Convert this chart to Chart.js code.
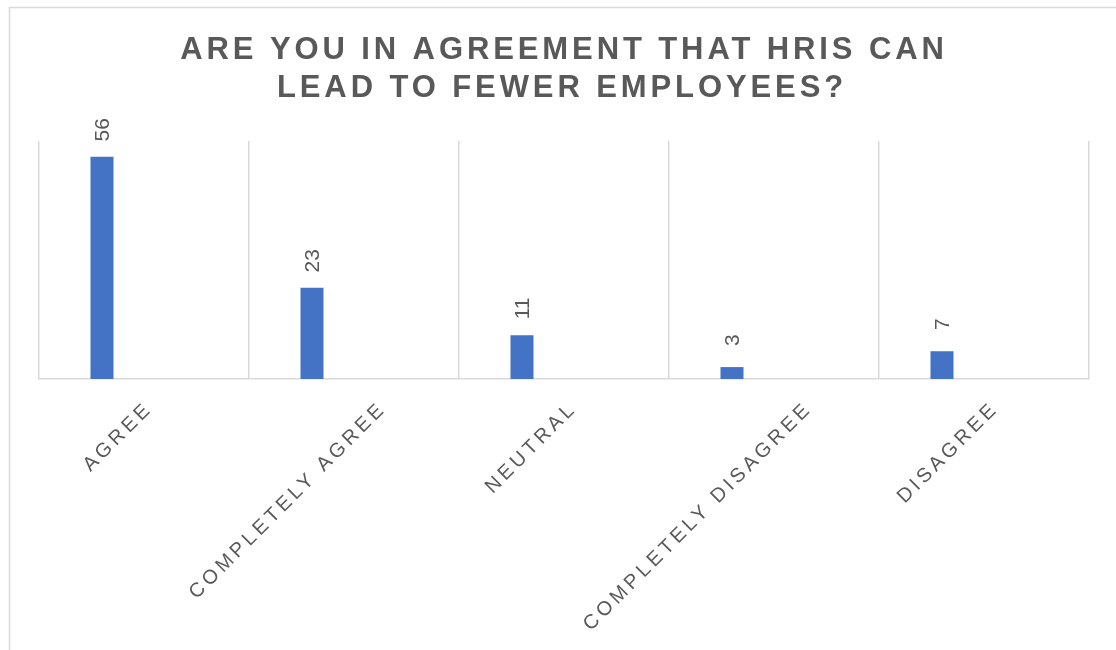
<!DOCTYPE html>
<html>
<head>
<meta charset="utf-8">
<script src="https://cdn.jsdelivr.net/npm/chart.js@4/dist/chart.umd.min.js"></script>
<style>
  html, body { margin: 0; padding: 0; background: #fff; }
  #wrap { width: 1116px; height: 650px; position: relative; }
</style>
</head>
<body>
<div id="wrap"><canvas id="c" width="1116" height="650"></canvas></div>
<script>
const categories = ['AGREE', 'COMPLETELY AGREE', 'NEUTRAL', 'COMPLETELY DISAGREE', 'DISAGREE'];
const responses = [56, 23, 11, 3, 7];
const emptySeries = [null, null, null, null, null];
const titleLines = ['ARE YOU IN AGREEMENT THAT HRIS CAN', 'LEAD TO FEWER EMPLOYEES?'];

const TEXT = '#595959';
const GRID = '#d9d9d9';
const FONT_FAMILY = '"Liberation Sans", Arial, sans-serif';
const TICK_SIZE = 20;
const TICK_LS = 3.8;

const framePlugin = {
  id: 'frame',
  beforeDraw(chart) {
    const ctx = chart.ctx;
    ctx.save();
    ctx.strokeStyle = GRID;
    ctx.lineWidth = 1.5;
    ctx.strokeRect(9.5, 7.5, 3000, 3000);
    ctx.restore();
  }
};

const titlePlugin = {
  id: 'customTitle',
  afterDraw(chart) {
    const ctx = chart.ctx;
    ctx.save();
    ctx.letterSpacing = '3.9px';
    ctx.font = 'bold 31px ' + FONT_FAMILY;
    ctx.fillStyle = TEXT;
    ctx.textAlign = 'center';
    ctx.textBaseline = 'alphabetic';
    const cx = 564;
    ctx.fillText(titleLines[0], cx, 59);
    ctx.fillText(titleLines[1], cx - 2, 97);
    ctx.restore();
  }
};

// Category labels: placed from the x scale's tick pixels, rotated 45°
const tickLabelPlugin = {
  id: 'tickLabels',
  afterDraw(chart) {
    const ctx = chart.ctx;
    const xs = chart.scales.x;
    ctx.save();
    ctx.font = TICK_SIZE + 'px ' + FONT_FAMILY;
    ctx.letterSpacing = TICK_LS + 'px';
    ctx.fillStyle = TEXT;
    ctx.textAlign = 'right';
    ctx.textBaseline = 'alphabetic';
    const h = 0.716 * TICK_SIZE;
    const topY = xs.top + 28;
    xs.ticks.forEach((t, i) => {
      const label = chart.data.labels[i];
      const c = xs.getPixelForTick(i);
      const w = ctx.measureText(label).width - TICK_LS;
      const mx = c + 0.131 * w - 9.5, my = topY;
      const bx = mx + 0.3536 * h, by = my + 0.3536 * h;
      const ox = bx + 0.7071 * TICK_LS, oy = by - 0.7071 * TICK_LS;
      ctx.save();
      ctx.translate(ox, oy);
      ctx.rotate(-Math.PI / 4);
      ctx.fillText(label, 0, 0);
      ctx.restore();
    });
    ctx.restore();
  }
};

const valueLabelPlugin = {
  id: 'valueLabels',
  afterDatasetsDraw(chart) {
    const ctx = chart.ctx;
    const meta = chart.getDatasetMeta(0);
    ctx.save();
    ctx.font = '21px ' + FONT_FAMILY;
    ctx.fillStyle = TEXT;
    ctx.textAlign = 'center';
    ctx.textBaseline = 'middle';
    meta.data.forEach((el, i) => {
      const v = chart.data.datasets[0].data[i];
      ctx.save();
      ctx.translate(el.x + 1, el.y - 27);
      ctx.rotate(-Math.PI / 2);
      ctx.fillText(String(v), 0, 0);
      ctx.restore();
    });
    ctx.restore();
  }
};

new Chart(document.getElementById('c'), {
  type: 'bar',
  data: {
    labels: categories,
    datasets: [
      { data: responses, backgroundColor: '#4472C4', barPercentage: 0.274, categoryPercentage: 0.8 },
      { data: emptySeries, backgroundColor: '#ED7D31', barPercentage: 0.274, categoryPercentage: 0.8 }
    ]
  },
  options: {
    responsive: false,
    animation: false,
    events: [],
    layout: { padding: { left: 39, right: 27, top: 141, bottom: 0 } },
    plugins: { legend: { display: false }, title: { display: false }, tooltip: { enabled: false } },
    scales: {
      x: {
        grid: { display: true, offset: true, color: GRID, lineWidth: 1.5, drawTicks: false },
        border: { display: true, color: GRID, width: 1.5 },
        ticks: { display: false, autoSkip: false },
        afterFit(scale) { scale.height = 650 - 379; }
      },
      y: {
        display: false,
        min: 0, max: 60
      }
    }
  },
  plugins: [framePlugin, titlePlugin, tickLabelPlugin, valueLabelPlugin]
});
</script>
</body>
</html>
